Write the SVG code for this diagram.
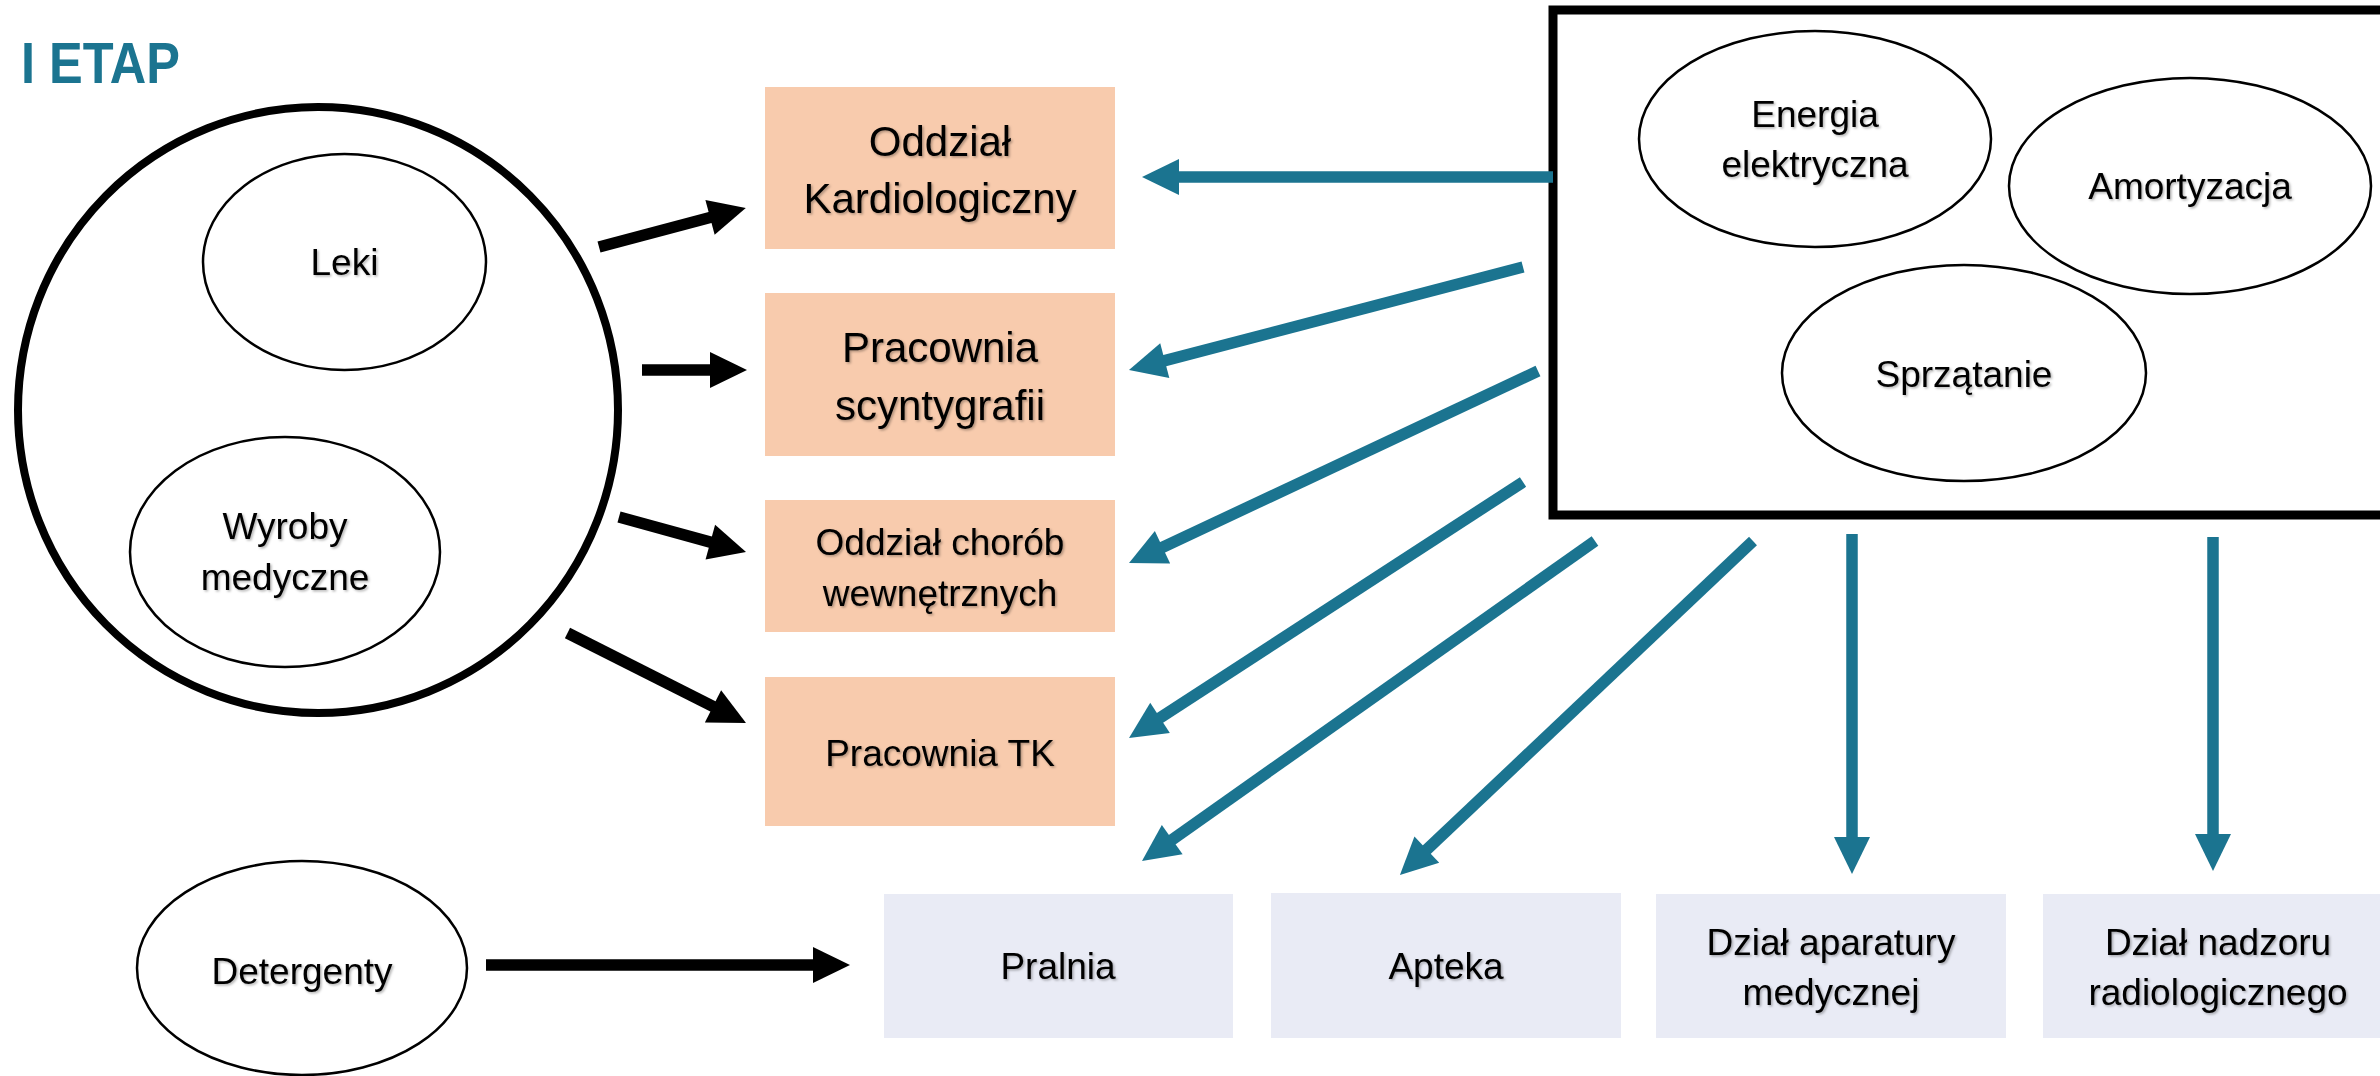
<svg xmlns="http://www.w3.org/2000/svg" width="2380" height="1076" viewBox="0 0 2380 1076">
  <style>
    .t { font-family: "Liberation Sans", Arial, sans-serif; fill: #000; text-anchor: middle; filter: url(#sh); }
    .f37 { font-size: 37px; }
    .f42 { font-size: 42px; }
    .ell { fill: #fff; stroke: #000; stroke-width: 2.5; }
    .peach { fill: #f8cbad; }
    .lav { fill: #e9ebf5; }
    .blk { stroke: #000; stroke-width: 11.5; fill: none; marker-end: url(#hb); }
    .teal { stroke: #1b7490; stroke-width: 11.5; fill: none; marker-end: url(#ht); }
  </style>
  <defs>
    <filter id="sh" x="-10%" y="-30%" width="120%" height="160%">
      <feDropShadow dx="1.5" dy="1.5" stdDeviation="1.2" flood-color="#000" flood-opacity="0.3"/>
    </filter>
    <marker id="hb" viewBox="0 -18 37 36" refX="1" refY="0" markerWidth="37" markerHeight="36" markerUnits="userSpaceOnUse" orient="auto" overflow="visible">
      <path d="M0,-18 L37,0 L0,18 z" fill="#000"/>
    </marker>
    <marker id="ht" viewBox="0 -18 37 36" refX="1" refY="0" markerWidth="37" markerHeight="36" markerUnits="userSpaceOnUse" orient="auto" overflow="visible">
      <path d="M0,-18 L37,0 L0,18 z" fill="#1b7490"/>
    </marker>
  </defs>
  <rect width="2380" height="1076" fill="#fff"/>

  <text id="title" x="21" y="83" font-family="Liberation Sans, Arial, sans-serif" font-weight="bold" font-size="58" fill="#1b7490" textLength="159" lengthAdjust="spacingAndGlyphs">I ETAP</text>

  <g id="materials">
    <ellipse cx="318" cy="410" rx="300" ry="303" fill="#fff" stroke="#000" stroke-width="8"/>
    <g id="leki">
      <ellipse class="ell" cx="344.5" cy="262" rx="141.5" ry="108"/>
      <text class="t f37" x="344.5" y="275">Leki</text>
    </g>
    <g id="wyroby">
      <ellipse class="ell" cx="285" cy="552" rx="155" ry="115"/>
      <text class="t f37" x="285" y="538.5">Wyroby</text>
      <text class="t f37" x="285" y="590">medyczne</text>
    </g>
  </g>

  <g id="detergenty">
    <ellipse class="ell" cx="302" cy="968" rx="165" ry="107"/>
    <text class="t f37" x="302" y="984">Detergenty</text>
  </g>

  <g id="kardiologiczny">
    <rect class="peach" x="765" y="87" width="350" height="162"/>
    <text class="t f42" x="940" y="156">Oddział</text>
    <text class="t f42" x="940" y="213">Kardiologiczny</text>
  </g>
  <g id="scyntygrafia">
    <rect class="peach" x="765" y="293" width="350" height="163"/>
    <text class="t f42" x="940" y="362">Pracownia</text>
    <text class="t f42" x="940" y="420">scyntygrafii</text>
  </g>
  <g id="chorob">
    <rect class="peach" x="765" y="500" width="350" height="132"/>
    <text class="t f37" x="940" y="555">Oddział chorób</text>
    <text class="t f37" x="940" y="606">wewnętrznych</text>
  </g>
  <g id="tk">
    <rect class="peach" x="765" y="677" width="350" height="149"/>
    <text class="t f37" x="940" y="766">Pracownia TK</text>
  </g>

  <g id="costs">
    <rect x="1553" y="10" width="900" height="505" fill="#fff" stroke="#000" stroke-width="9"/>
    <g id="energia">
      <ellipse class="ell" cx="1815" cy="139" rx="176" ry="108"/>
      <text class="t f37" x="1815" y="127">Energia</text>
      <text class="t f37" x="1815" y="177">elektryczna</text>
    </g>
    <g id="amortyzacja">
      <ellipse class="ell" cx="2190" cy="186" rx="181" ry="108"/>
      <text class="t f37" x="2190" y="199">Amortyzacja</text>
    </g>
    <g id="sprzatanie">
      <ellipse class="ell" cx="1964" cy="373" rx="182" ry="108"/>
      <text class="t f37" x="1964" y="387">Sprzątanie</text>
    </g>
  </g>

  <g id="pralnia">
    <rect class="lav" x="884" y="894" width="349" height="144"/>
    <text class="t f37" x="1058" y="979">Pralnia</text>
  </g>
  <g id="apteka">
    <rect class="lav" x="1271" y="893" width="350" height="145"/>
    <text class="t f37" x="1446" y="979">Apteka</text>
  </g>
  <g id="aparatura">
    <rect class="lav" x="1656" y="894" width="350" height="144"/>
    <text class="t f37" x="1831" y="955">Dział aparatury</text>
    <text class="t f37" x="1831" y="1005">medycznej</text>
  </g>
  <g id="nadzor">
    <rect class="lav" x="2043" y="894" width="350" height="144"/>
    <text class="t f37" x="2218" y="955">Dział nadzoru</text>
    <text class="t f37" x="2218" y="1005">radiologicznego</text>
  </g>

  <g id="connectors">
    <line class="blk" x1="599" y1="247" x2="711" y2="217.2"/>
    <line class="blk" x1="642" y1="370" x2="711" y2="370"/>
    <line class="blk" x1="619" y1="517" x2="711.3" y2="542.4"/>
    <line class="blk" x1="567.5" y1="633" x2="713.9" y2="706.8"/>
    <line class="blk" x1="486" y1="965" x2="814" y2="965"/>

    <line class="teal" x1="1553" y1="177" x2="1178" y2="177"/>
    <line class="teal" x1="1523" y1="267" x2="1163.8" y2="360.9"/>
    <line class="teal" x1="1538" y1="371" x2="1161.6" y2="547.7"/>
    <line class="teal" x1="1523" y1="482" x2="1159.2" y2="718.4"/>
    <line class="teal" x1="1595" y1="541" x2="1171.4" y2="840.2"/>
    <line class="teal" x1="1753" y1="541" x2="1426.1" y2="850.3"/>
    <line class="teal" x1="1852" y1="534" x2="1852" y2="838"/>
    <line class="teal" x1="2213" y1="537" x2="2213" y2="835"/>
  </g>
</svg>
